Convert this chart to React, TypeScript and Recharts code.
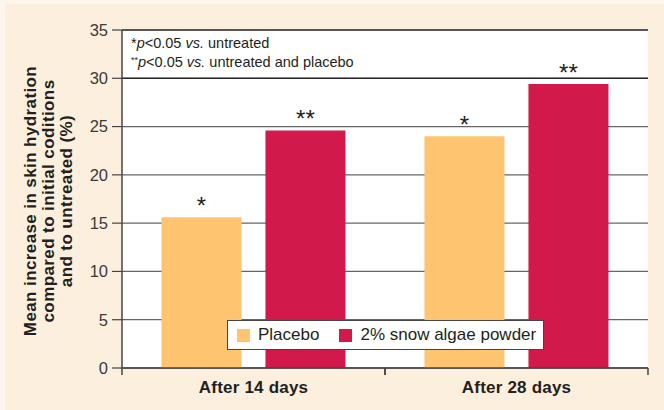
import {
  BarChart,
  Bar,
  XAxis,
  YAxis,
  CartesianGrid,
  ReferenceLine,
  LabelList,
} from "recharts";

const categories = ["After 14 days", "After 28 days"];
const placebo = [15.6, 24.0];
const snowAlgae = [24.6, 29.4];
const placeboSig = ["*", "*"];
const snowAlgaeSig = ["**", "**"];
const yTicks = [0, 5, 10, 15, 20, 25, 30, 35];
const seriesNames = ["Placebo", "2% snow algae powder"];
const seriesColors = ["#FEC46F", "#D1194C"];

const data = categories.map((c, i) => ({
  name: c,
  placebo: placebo[i],
  snow: snowAlgae[i],
  pSig: placeboSig[i],
  sSig: snowAlgaeSig[i],
}));

const font = "'Liberation Sans', Arial, sans-serif";
const dark = "#231F20";

function CatTick(props: any) {
  const { x, y, payload } = props;
  const off = payload.offset || 0;
  return (
    <g>
      <line x1={x - off} x2={x - off} y1={y - 8} y2={y - 1} stroke="#444" strokeWidth={1.5} />
      <line x1={x + off} x2={x + off} y1={y - 8} y2={y - 1} stroke="#444" strokeWidth={1.5} />
      <text x={x} y={y + 17} textAnchor="middle" fontFamily={font} fontWeight="bold" fontSize={17} letterSpacing={0.2} fill={dark}>
        {payload.value}
      </text>
    </g>
  );
}

function Star(props: any) {
  const { x, y, width, value } = props;
  return (
    <text x={x + width / 2} y={y - 3} textAnchor="middle" fontFamily={font} fontSize={24} fill={dark}>
      {value}
    </text>
  );
}

function YTitle() {
  const cx = 48;
  const cy = 201;
  return (
    <text
      transform={`rotate(-90 ${cx} ${cy})`}
      x={cx}
      y={cy}
      textAnchor="middle"
      fontFamily={font}
      fontWeight="bold"
      fontSize={17}
      letterSpacing={0.4}
      fill={dark}
    >
      <tspan x={cx} dy={-12}>Mean increase in skin hydration</tspan>
      <tspan x={cx} dy={18}>compared to initial coditions</tspan>
      <tspan x={cx} dy={18}>and to untreated (%)</tspan>
    </text>
  );
}

function App() {
  return (
    <div style={{ position: "absolute", left: 0, top: 0, width: 664, height: 410, background: "#FEF6EC" }}>
      <div style={{ position: "absolute", left: 5, top: 4, width: 659, height: 406, background: "#FDEFDD" }} />
      <div style={{ position: "absolute", left: 0, top: 0, fontFamily: font }}>
        <BarChart
          width={664}
          height={410}
          data={data}
          margin={{ top: 30, right: 16, bottom: 0, left: 0 }}
          barCategoryGap="15%"
          barGap={24}
        >
          <CartesianGrid fill="#ffffff" horizontal vertical={false} stroke="#666" strokeWidth={1.3} />
          <XAxis
            dataKey="name"
            tick={<CatTick />}
            tickLine={false}
            axisLine={{ stroke: "#444", strokeWidth: 1.5 }}
            height={42}
            interval={0}
          />
          <YAxis
            domain={[0, 35]}
            ticks={yTicks}
            width={122}
            tickSize={10}
            tickMargin={4}
            tickLine={{ stroke: "#444", strokeWidth: 1.2 }}
            axisLine={{ stroke: "#444", strokeWidth: 1.5 }}
            tick={{ fontFamily: font, fontSize: 16.5, fill: "#3a3a3a" }}
            label={<YTitle />}
          />
          <YAxis
            yAxisId="right"
            orientation="right"
            domain={[0, 35]}
            width={0}
            tick={false}
            tickLine={false}
            axisLine={{ stroke: "#444", strokeWidth: 1.5 }}
          />
          <ReferenceLine y={35} stroke="#444" strokeWidth={1.5} />
          <ReferenceLine y={30} stroke="#2a2a2a" strokeWidth={1.6} />
          <Bar dataKey="placebo" name={seriesNames[0]} fill={seriesColors[0]} isAnimationActive={false}>
            <LabelList dataKey="pSig" content={<Star />} />
          </Bar>
          <Bar dataKey="snow" name={seriesNames[1]} fill={seriesColors[1]} isAnimationActive={false}>
            <LabelList dataKey="sSig" content={<Star />} />
          </Bar>
        </BarChart>
      </div>
      <div style={{ position: "absolute", left: 131, top: 35, fontFamily: font, fontSize: 14.5, lineHeight: "17px", color: dark, whiteSpace: "nowrap" }}>
        <div>*<i>p</i>&lt;0.05 <i>vs.</i> untreated</div>
        <div>
          <span style={{ fontSize: 9, verticalAlign: "4px" }}>**</span>
          <i>p</i>&lt;0.05 <i>vs.</i> untreated and placebo
        </div>
      </div>
      <div
        style={{
          position: "absolute",
          left: 227,
          top: 320,
          width: 317,
          height: 30,
          boxSizing: "border-box",
          background: "#fff",
          border: "1.5px solid #444",
          display: "flex",
          alignItems: "center",
          paddingLeft: 9,
          fontFamily: font,
          fontSize: 17,
          color: dark,
          whiteSpace: "nowrap",
        }}
      >
        {seriesNames.map((n, i) => (
          <div key={n} style={{ display: "flex", alignItems: "center", marginRight: 20 }}>
            <span style={{ display: "inline-block", width: 13, height: 13, background: seriesColors[i], marginRight: 8 }} />
            <span>{n}</span>
          </div>
        ))}
      </div>
    </div>
  );
}

export default App;
